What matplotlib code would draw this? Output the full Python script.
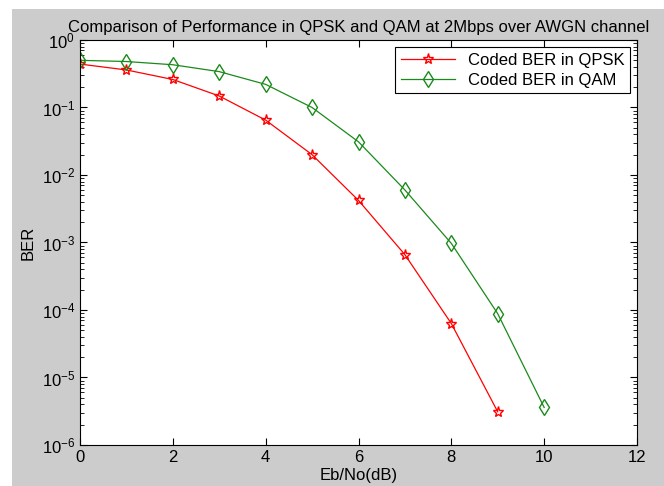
import matplotlib
matplotlib.use('Agg')
import matplotlib.pyplot as plt
from matplotlib.patches import Rectangle
from matplotlib.ticker import LogLocator, NullFormatter

plt.rcParams['font.family'] = ['Liberation Sans', 'DejaVu Sans']

ebno = [0, 1, 2, 3, 4, 5, 6, 7, 8, 9, 10]
ber_qpsk = [0.44, 0.36, 0.26, 0.148, 0.065, 0.020, 0.0042, 6.6e-4, 6.3e-5, 3.1e-6]
ber_qam = [0.50, 0.48, 0.43, 0.34, 0.22, 0.10, 0.031, 0.006, 9.7e-4, 8.8e-5, 3.6e-6]

fig = plt.figure(figsize=(6.64, 4.86), dpi=100, facecolor='white')
# grey figure panel with a thin white strip on the left and top
fig.patches.append(Rectangle((12 / 664, 0), 1, 1 - 9 / 486, transform=fig.transFigure,
                             facecolor='#cccccc', edgecolor='none', zorder=-1))

ax = fig.add_axes([80 / 664, 1 - 445 / 486, 557 / 664, 405 / 486])
ax.set_facecolor('white')

ax.semilogy(ebno[:len(ber_qpsk)], ber_qpsk, color='red', marker='*', markersize=8,
            markerfacecolor='none', markeredgecolor='red', linewidth=0.9,
            label='Coded BER in QPSK')
ax.semilogy(ebno, ber_qam, color='#1a8a1a', marker='d', markersize=8,
            markerfacecolor='none', markeredgecolor='#1a8a1a', linewidth=0.9,
            label='Coded BER in QAM')

ax.set_xlim(0, 12)
ax.set_ylim(1e-6, 1)
ax.set_xticks([0, 2, 4, 6, 8, 10, 12])
ax.yaxis.set_major_locator(LogLocator(base=10, numticks=10))
ax.yaxis.set_minor_locator(LogLocator(base=10, subs=range(2, 10), numticks=20))
ax.yaxis.set_minor_formatter(NullFormatter())
ax.tick_params(which='both', direction='in', top=True, right=True, labelsize=12)
ax.tick_params(which='major', length=5)
ax.tick_params(which='minor', length=3)
for s in ax.spines.values():
    s.set_linewidth(0.8)

ax.set_xlabel('Eb/No(dB)', fontsize=12, labelpad=2)
ax.set_ylabel('BER', fontsize=12)
ax.set_title('Comparison of Performance in QPSK and QAM at 2Mbps over AWGN channel',
             fontsize=12, pad=6)

leg = ax.legend(loc='upper right', fontsize=12, fancybox=False, edgecolor='black',
                framealpha=1, handlelength=3.2, borderpad=0.35, labelspacing=0.3,
                borderaxespad=0.4)
leg.get_frame().set_linewidth(0.8)

fig.savefig('out.png', dpi=100, facecolor=fig.get_facecolor())
